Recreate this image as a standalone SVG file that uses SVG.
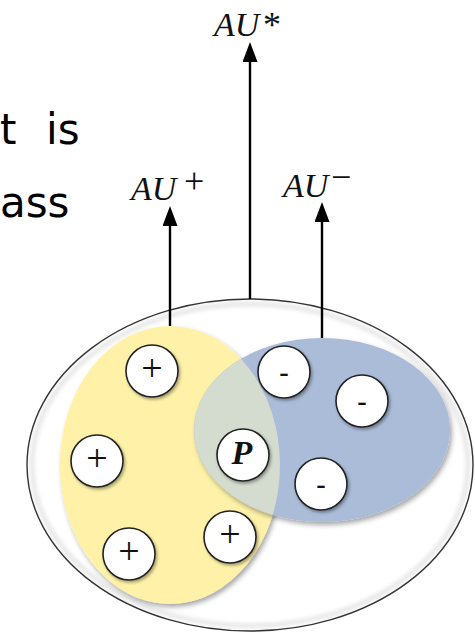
<svg xmlns="http://www.w3.org/2000/svg" width="475" height="633" viewBox="0 0 475 633">
  <defs>
    <filter id="sh" x="-20%" y="-20%" width="140%" height="140%">
      <feDropShadow dx="2" dy="3" stdDeviation="2.5" flood-color="#000" flood-opacity="0.35"/>
    </filter>
    <filter id="shs" x="-30%" y="-30%" width="160%" height="160%">
      <feDropShadow dx="1.5" dy="2" stdDeviation="1.5" flood-color="#000" flood-opacity="0.35"/>
    </filter>
    <filter id="blur" x="-10%" y="-10%" width="120%" height="120%">
      <feGaussianBlur stdDeviation="2"/>
    </filter>
    <clipPath id="yclip">
      <ellipse cx="170" cy="465" rx="110" ry="139"/>
    </clipPath>
    <marker id="ah" viewBox="0 0 20 15" refX="0" refY="7.5" markerWidth="20" markerHeight="15" markerUnits="userSpaceOnUse" orient="auto">
      <path d="M0,0 L20,7.5 L0,15 Z" fill="#000"/>
    </marker>
    <style>
      .lbl { font-family: "Liberation Serif", "Times New Roman", serif; font-style: italic; font-size: 34px; fill: #111; }
      .sup { font-family: "Liberation Serif", "Times New Roman", serif; font-size: 36px; fill: #111; }
      .side { font-family: "Comic Sans MS", "DejaVu Sans", sans-serif; font-size: 42px; fill: #000; }
      .tok { fill: #fff; stroke: #222; stroke-width: 1.6; filter: url(#shs); }
      .pl { font-family: "Liberation Serif", serif; font-size: 38px; fill: #111; text-anchor: middle; }
      .mn { font-family: "Liberation Sans", sans-serif; font-size: 30px; fill: #111; text-anchor: middle; }
      .conn { stroke: #000; stroke-width: 2.4; fill: none; }
    </style>
  </defs>

  <rect width="475" height="633" fill="#fff"/>

  <g id="side-text">
    <text class="side" y="144"><tspan x="0">t</tspan> <tspan x="46">is</tspan></text>
    <text class="side" x="0" y="217">ass</text>
  </g>

  <g id="outer">
    <ellipse cx="250" cy="465" rx="218" ry="161" fill="none" stroke="#e2e2e2" stroke-width="4" filter="url(#blur)"/>
    <ellipse cx="250" cy="465" rx="223" ry="166" fill="none" stroke="#333" stroke-width="1.4"/>
  </g>

  <g id="yellow">
    <ellipse cx="170" cy="465" rx="110" ry="139" fill="#fff2a8" filter="url(#sh)"/>
  </g>
  <g id="blue">
    <ellipse cx="322" cy="430" rx="128" ry="92" fill="#aabcd8" filter="url(#sh)"/>
    <ellipse cx="322" cy="430" rx="128" ry="92" fill="#d3dccf" clip-path="url(#yclip)"/>
  </g>

  <g id="connectors">
    <line class="conn" x1="170" y1="326" x2="170" y2="226" marker-end="url(#ah)"/>
    <line class="conn" x1="250" y1="299" x2="250" y2="62" marker-end="url(#ah)"/>
    <line class="conn" x1="322" y1="338" x2="322" y2="222" marker-end="url(#ah)"/>
  </g>

  <g id="label-au-star">
    <text class="lbl" x="214" y="36">AU</text>
    <text class="sup" x="263" y="37">*</text>
  </g>
  <g id="label-au-plus">
    <text class="lbl" x="131" y="200">AU</text>
    <text class="sup" x="184" y="193">+</text>
  </g>
  <g id="label-au-minus">
    <text class="lbl" x="283" y="197">AU</text>
    <text class="sup" x="331" y="189">−</text>
  </g>

  <g id="plus1"><circle class="tok" cx="152" cy="371" r="26"/><text class="pl" x="152" y="381">+</text></g>
  <g id="plus2"><circle class="tok" cx="97" cy="461" r="26"/><text class="pl" x="97" y="471">+</text></g>
  <g id="plus3"><circle class="tok" cx="129" cy="554" r="26"/><text class="pl" x="129" y="564">+</text></g>
  <g id="plus4"><circle class="tok" cx="230" cy="537" r="26"/><text class="pl" x="230" y="547">+</text></g>
  <g id="minus1"><circle class="tok" cx="284" cy="372" r="26"/><text class="mn" x="284" y="383">-</text></g>
  <g id="minus2"><circle class="tok" cx="362" cy="401" r="26"/><text class="mn" x="362" y="412">-</text></g>
  <g id="minus3"><circle class="tok" cx="321" cy="484" r="26"/><text class="mn" x="321" y="495">-</text></g>
  <g id="p"><circle class="tok" cx="243" cy="455" r="26"/><text class="lbl" x="242" y="464" text-anchor="middle" font-weight="bold" font-size="34">P</text></g>
</svg>
